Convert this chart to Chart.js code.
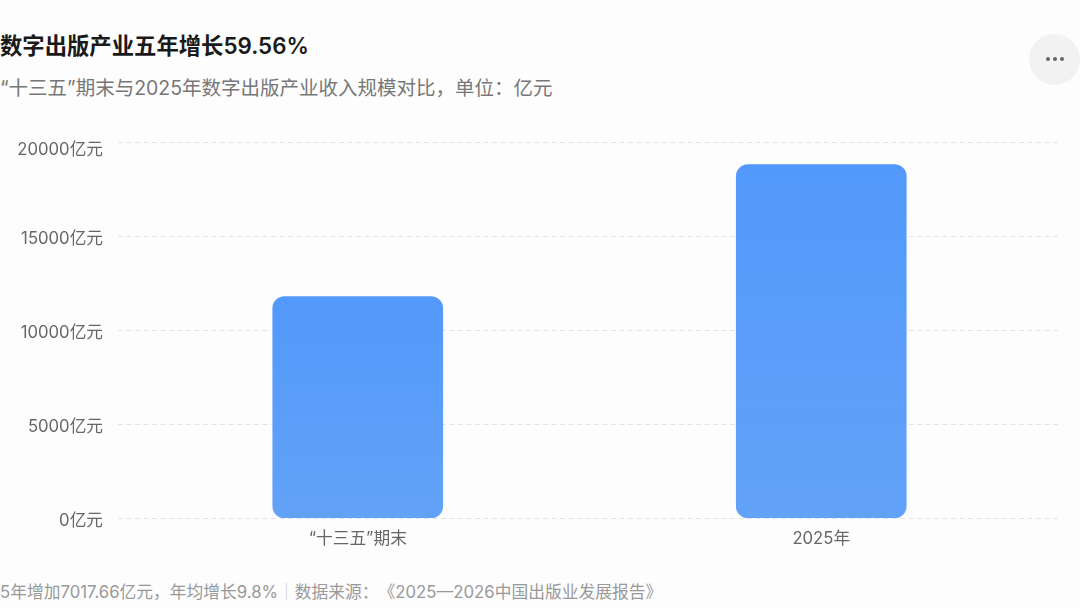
<!DOCTYPE html>
<html lang="zh">
<head>
<meta charset="utf-8">
<script src="https://cdn.jsdelivr.net/npm/chart.js@4"></script>
<style>
  html, body { margin: 0; background: #fdfdfd; }
  body { position: relative; width: 1080px; height: 608px; overflow: hidden; font-family: Inter, "Noto Sans CJK SC", sans-serif; text-spacing-trim: space-all; }
  canvas { position: absolute; left: 0; top: 0; }
  .txt { position: absolute; left: 0; white-space: nowrap; }
  #title { top: 30px; font-size: 22.35px; line-height: 32px; font-weight: 600; color: #1a1a1a; }
  #subtitle { top: 74px; font-size: 19.5px; line-height: 28px; color: #777; }
  #source { top: 579px; font-size: 16.75px; line-height: 26px; color: #999; }
  #source span { color: #ccc; }
  #more { position: absolute; left: 1029px; top: 34px; width: 51px; height: 51px; border-radius: 50%; background: #f2f2f2; }
  #more i { position: absolute; top: 23px; width: 4px; height: 4px; border-radius: 50%; background: #666; }
</style>
</head>
<body>
<div id="title" class="txt">数字出版产业五年增长59.56%</div>
<div id="subtitle" class="txt">“十三五”期末与2025年数字出版产业收入规模对比，单位：亿元</div>
<div id="source" class="txt">5年增加7017.66亿元，年均增长9.8%<span>｜</span>数据来源：《2025—2026中国出版业发展报告》</div>
<div id="more"><i style="left:17px"></i><i style="left:24px"></i><i style="left:31px"></i></div>
<canvas id="chart" width="1080" height="608"></canvas>
<script>
const categories = ['“十三五”期末', '2025年'];
const revenue = [11781.67, 18799.33];
const tickValues = [0, 5000, 10000, 15000, 20000];
const tickUnit = '亿元';

// grid is drawn here because it runs a little past the category band on both sides
const dashedGrid = {
    id: 'dashedGrid',
    beforeDatasetsDraw(chart) {
        const { ctx, scales: { y } } = chart;
        ctx.save();
        ctx.strokeStyle = '#e4e4e4';
        ctx.lineWidth = 1;
        ctx.setLineDash([5, 3.5]);
        tickValues.forEach(v => {
            const py = Math.round(y.getPixelForValue(v)) + 0.5;
            ctx.beginPath();
            ctx.moveTo(118, py);
            ctx.lineTo(1060, py);
            ctx.stroke();
        });
        ctx.restore();
    }
};

function barGradient(context) {
    const { chart, dataIndex } = context;
    if (!chart.chartArea) return '#5a9df9';
    const y = chart.scales.y;
    const g = chart.ctx.createLinearGradient(0, y.getPixelForValue(revenue[dataIndex]), 0, y.getPixelForValue(0));
    g.addColorStop(0, '#5399fb');
    g.addColorStop(1, '#62a2f8');
    return g;
}

new Chart(document.getElementById('chart').getContext('2d'), {
    type: 'bar',
    data: {
        labels: categories,
        datasets: [{
            data: revenue,
            backgroundColor: barGradient,
            borderRadius: 12,
            borderSkipped: false,
            barThickness: 170
        }]
    },
    plugins: [dashedGrid],
    options: {
        responsive: false,
        animation: false,
        layout: { padding: { top: 142, right: 27, left: 0, bottom: 0 } },
        plugins: { legend: { display: false }, tooltip: { enabled: false }, title: { display: false } },
        scales: {
            x: {
                grid: { display: false },
                border: { display: false },
                afterFit(scale) { scale.height = 90; },
                ticks: {
                    color: '#666',
                    padding: 3,
                    maxRotation: 0,
                    font: { size: 16.7, family: 'Inter, "Noto Sans CJK SC", sans-serif' }
                }
            },
            y: {
                min: 0,
                max: 20000,
                afterFit(scale) { scale.width = 126; },
                afterBuildTicks(scale) { scale.ticks = tickValues.map(value => ({ value })); },
                grid: { display: false },
                border: { display: false },
                ticks: {
                    color: '#666',
                    padding: 15,
                    // labels sit a bit below their grid lines, the top one most: empty first line pushes them down
                    callback: v => ['', v + tickUnit],
                    font: ctx => ({
                        size: 16.7,
                        lineHeight: ctx.tick && ctx.tick.value === 20000 ? '16px' : '5px',
                        family: 'Inter, "Noto Sans CJK SC", sans-serif'
                    })
                }
            }
        }
    }
});
</script>
</body>
</html>
